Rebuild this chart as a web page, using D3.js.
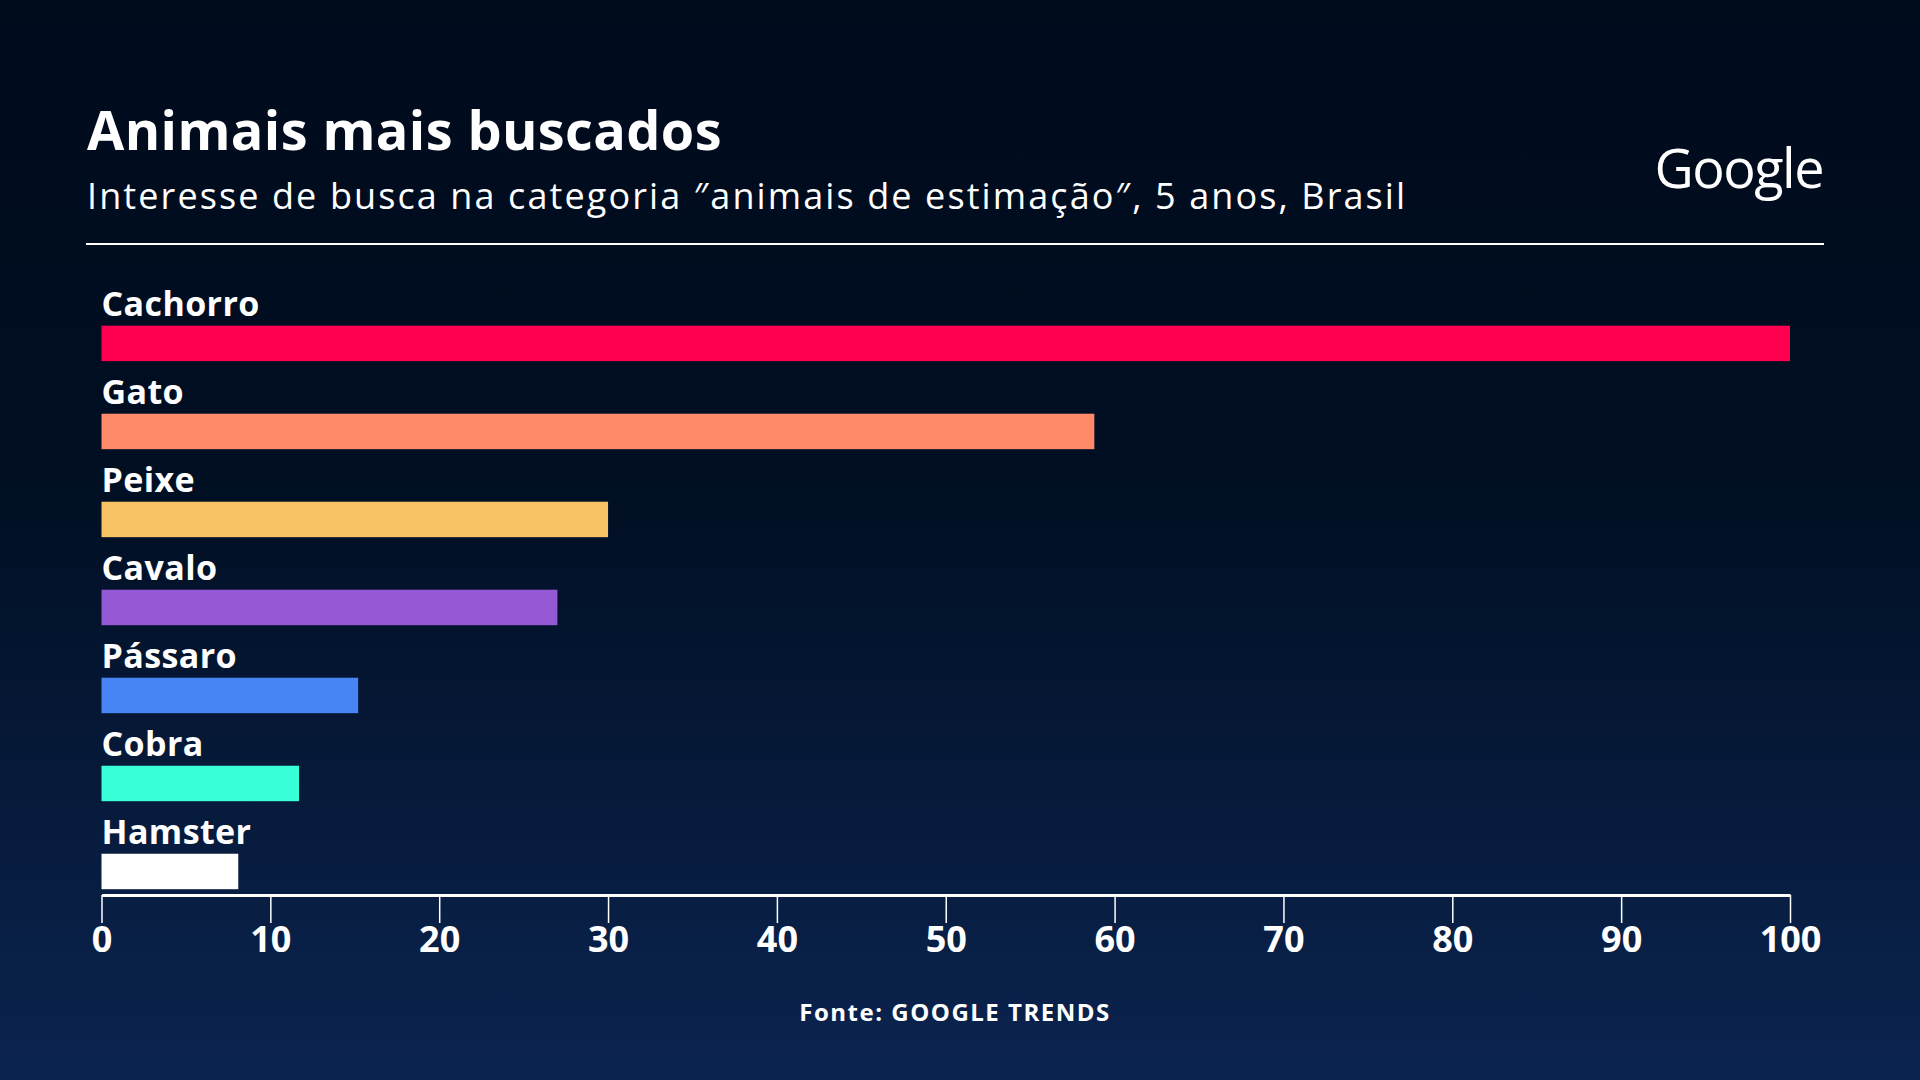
<!DOCTYPE html>
<html lang="pt">

<head>
    <meta charset="UTF-8">
    <title>Animais mais buscados</title>
    <script src="https://d3js.org/d3.v7.min.js"></script>
    <style>
        body {
            margin: 0;
            padding: 0;
            background: #000b1c;
            overflow: hidden;
        }

        svg {
            display: block;
            font-family: 'Open Sans', sans-serif;
        }

        .axis text {
            font-family: 'Open Sans', sans-serif;
            font-weight: 700;
            font-size: 36px;
            fill: #fff;
        }

        .axis line {
            stroke: #fff;
            stroke-width: 1.5;
        }

        .axis path {
            stroke: #fff;
            stroke-width: 3;
        }
    </style>
</head>

<body>
    <svg width="1920" height="1080"></svg>

    <script>
        // data
        const animals = ["Cachorro", "Gato", "Peixe", "Cavalo", "Pássaro", "Cobra", "Hamster"];
        const interest = [100, 58.8, 30, 27, 15.2, 11.7, 8.1];
        const barColors = ["#ff0050", "#ff8a6a", "#f6c264", "#9659d6", "#4784f4", "#38ffd7", "#ffffff"];
        const tickValues = [0, 10, 20, 30, 40, 50, 60, 70, 80, 90, 100];

        const title = "Animais mais buscados";
        const subtitle = "Interesse de busca na categoria \u2033animais de estimação\u2033, 5 anos, Brasil";
        const source = "Fonte: GOOGLE TRENDS";

        const data = animals.map((a, i) => ({ name: a, value: interest[i], color: barColors[i] }));

        const svg = d3.select("svg");

        // background gradient
        const defs = svg.append("defs");
        const grad = defs.append("linearGradient")
            .attr("id", "bg")
            .attr("x1", 0).attr("y1", 0).attr("x2", 0).attr("y2", 1);
        grad.append("stop").attr("offset", "0%").attr("stop-color", "#000b1c");
        grad.append("stop").attr("offset", "45%").attr("stop-color", "#010f23");
        grad.append("stop").attr("offset", "100%").attr("stop-color", "#0b2450");

        svg.append("rect")
            .attr("width", 1920)
            .attr("height", 1080)
            .attr("fill", "url(#bg)");

        // header
        svg.append("text")
            .attr("x", 87)
            .attr("y", 150)
            .attr("fill", "#fff")
            .attr("font-size", 54)
            .attr("font-weight", 700)
            .attr("letter-spacing", 0.4)
            .text(title);

        svg.append("text")
            .attr("x", 87)
            .attr("y", 209)
            .attr("fill", "#fff")
            .attr("font-size", 36)
            .attr("font-weight", 400)
            .attr("letter-spacing", 2.1)
            .text(subtitle);

        svg.append("text")
            .attr("x", 1823)
            .attr("y", 188)
            .attr("text-anchor", "end")
            .attr("fill", "#fff")
            .attr("font-size", 54)
            .attr("font-weight", 400)
            .attr("letter-spacing", -1.5)
            .text("Google");

        svg.append("line")
            .attr("x1", 86).attr("x2", 1824)
            .attr("y1", 244).attr("y2", 244)
            .attr("stroke", "#fff")
            .attr("stroke-width", 2);

        // scales
        const x = d3.scaleLinear()
            .domain([0, 100])
            .range([101.5, 1790]);

        const y = d3.scaleBand()
            .domain(animals)
            .range([325.7, 889.2])
            .paddingInner(0.597)
            .paddingOuter(0);

        // bars
        svg.selectAll("rect.bar")
            .data(data)
            .join("rect")
            .attr("class", "bar")
            .attr("x", x(0))
            .attr("y", d => y(d.name))
            .attr("width", d => x(d.value) - x(0))
            .attr("height", y.bandwidth())
            .attr("fill", d => d.color);

        // labels above bars
        svg.selectAll("text.label")
            .data(data)
            .join("text")
            .attr("class", "label")
            .attr("x", x(0))
            .attr("y", d => y(d.name) - 10)
            .attr("fill", "#fff")
            .attr("font-size", 34)
            .attr("font-weight", 700)
            .attr("letter-spacing", 0.4)
            .text(d => d.name);

        // axis
        svg.append("g")
            .attr("class", "axis")
            .attr("transform", "translate(0,895)")
            .call(d3.axisBottom(x)
                .tickValues(tickValues)
                .tickSize(28)
                .tickSizeOuter(0)
                .tickPadding(3))
            .call(g => g.select(".domain").attr("stroke", "#fff"))
            .call(g => g.selectAll(".tick text").attr("fill", "#fff"));

        // source
        svg.append("text")
            .attr("x", 955)
            .attr("y", 1021)
            .attr("text-anchor", "middle")
            .attr("fill", "#fff")
            .attr("font-size", 24)
            .attr("font-weight", 700)
            .attr("letter-spacing", 1.5)
            .text(source);
    </script>
</body>

</html>
